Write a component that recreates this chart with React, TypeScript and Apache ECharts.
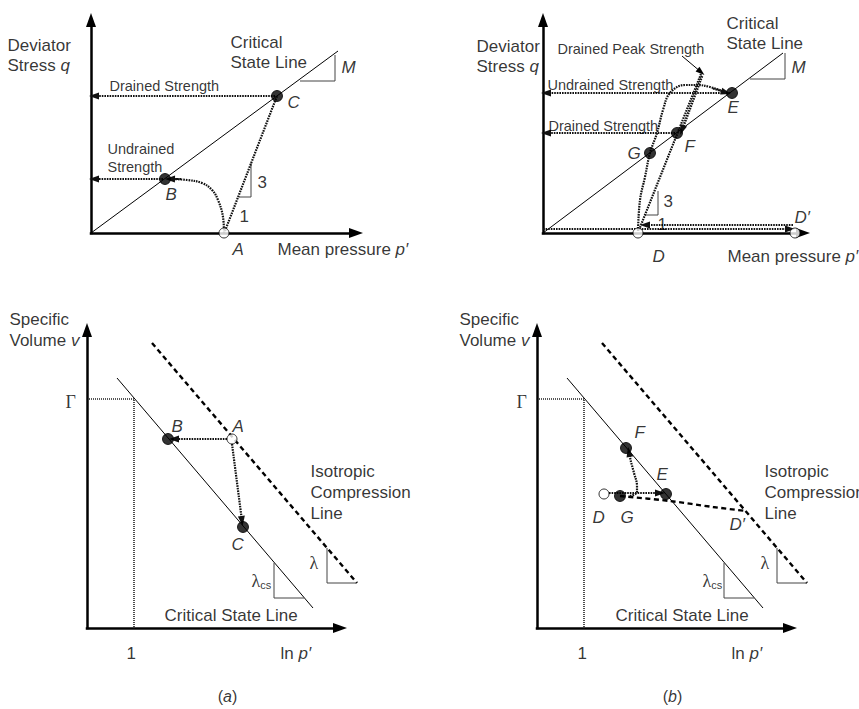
import React, { useEffect, useRef } from "react";
import * as echarts from "echarts";

const SANS = "'Liberation Sans', Arial, sans-serif";
const SERIF = "'Liberation Serif', 'Times New Roman', serif";
const BIG = 17;
const SMALL = 14.5;

// ---------- Panel (a), upper: q – p′ plane (local diagram units) ----------
const qpA_axes = [[[0, 0], [0, 213]], [[0, 0], [265, 0]]];
const qpA_csl = [[0, 0], [247, 182]];
const qpA_filled = [[74, 54], [186, 137]]; // B, C
const qpA_open = [[133, 0]]; // A
const qpA_undrainedPath = [[133, 0], [132, 16], [127, 33], [121, 43], [111, 50], [96, 53], [80, 54]];
const qpA_pathHeads = [[[90, 53.8], [79, 54]]];
const qpA_drainedPath = [[134, 2], [186, 137]];
const qpA_strengthArrows = [[[184, 137], [3, 137]], [[72, 54], [3, 54]]];
const qpA_slope3 = [[148, 36], [160, 36], [160, 70]];
const qpA_slopeM = [[209, 152], [244, 152], [244, 178]];

// ---------- Panel (b), upper ----------
const qpB_axes = [[[0, 0], [0, 213]], [[0, 0], [260, 0]]];
const qpB_csl = [[0, 0], [240, 180]];
const qpB_filled = [[189, 140], [134, 100], [107, 80]]; // E, F, G
const qpB_open = [[95, 0], [252, 0]]; // D, D′
const qpB_undrainedPath = [[95, 2], [97, 33], [102, 56], [107, 80], [114, 100], [120, 123], [127, 140], [142, 148], [154, 148], [167, 146], [182, 141]];
const qpB_curveHead = [[[170, 144.5], [183, 140.5]]];
const qpB_drainedLine = [[96, 3], [158, 159]];
const qpB_loadArrows = [[[0, 4], [247, 4]], [[250, 8], [102, 8]]];
const qpB_strengthArrows = [[[187, 140], [3, 140]], [[132, 100], [3, 100]]];
const qpB_peakReturn = [[[159, 157], [139, 103]]];
const qpB_peakPointer = [[[139, 177], [158, 161]]];
const qpB_slope3 = [[102, 18], [115, 18], [115, 42]];
const qpB_slopeM = [[207, 154], [242, 154], [242, 180]];

// ---------- Panel (a), lower: v – ln p′ plane ----------
const vA_axes = [[[0, 0], [0, 298]], [[0, 0], [253, 0]]];
const vA_csl = [[30, 250], [226, 20]];
const vA_icl = [[65, 285], [270, 45]];
const vA_gamma = [[0, 229], [47, 229], [47, 0]];
const vA_filled = [[81, 189], [156, 101]]; // B, C
const vA_open = [[145, 189]]; // A
const vA_arrows = [[[140, 189], [87, 189]], [[145, 184], [155, 107]]];
const vA_lambda = [[240, 80], [240, 45], [269, 45]];
const vA_lambdaCs = [[187, 65], [187, 30], [217, 30]];

// ---------- Panel (b), lower ----------
const vB_axes = [[[0, 0], [0, 298]], [[0, 0], [253, 0]]];
const vB_csl = [[30, 250], [226, 20]];
const vB_icl = [[65, 285], [270, 45]];
const vB_gamma = [[0, 229], [47, 229], [47, 0]];
const vB_filled = [[89, 180], [129, 134], [83, 132]]; // F, E, G
const vB_open = [[67, 134]]; // D
const vB_unloadDashed = [[83, 132], [133, 127], [176, 121], [209, 117]];
const vB_arrowDE = [[[72, 135], [123, 135]]];
const vB_curveToF = [[93, 132], [100, 136], [100, 142], [97, 155], [94, 166]];
const vB_curveHead = [[[94, 166], [92, 176]]];
const vB_lambda = [[240, 80], [240, 45], [270, 45]];
const vB_lambdaCs = [[187, 65], [187, 30], [217, 30]];

// ---------- Text labels (anchor = left-middle, local units) ----------
type Txt = { at: number[]; text: string; size?: number; lh?: number; align?: string };
const qpA_text: Txt[] = [
  { at: [-83, 177], text: "Deviator\nStress {i|q}" },
  { at: [140, 180], text: "Critical\nState Line" },
  { at: [251, 165], text: "{i|M}" },
  { at: [19, 147], text: "Drained Strength", size: SMALL },
  { at: [17, 75], text: "Undrained\nStrength", size: SMALL, lh: 18 },
  { at: [75, 38], text: "{i|B}" },
  { at: [197, 130], text: "{i|C}" },
  { at: [142, -17], text: "{i|A}" },
  { at: [187, -17], text: "Mean pressure {i|p′}" },
  { at: [167, 50], text: "3" },
  { at: [149, 16], text: "1" },
];
const qpB_text: Txt[] = [
  { at: [-66, 176], text: "Deviator\nStress {i|q}" },
  { at: [184, 199], text: "Critical\nState Line" },
  { at: [249, 165], text: "{i|M}" },
  { at: [15, 184], text: "Drained Peak Strength", size: SMALL },
  { at: [5, 148], text: "Undrained Strength", size: SMALL },
  { at: [6, 107], text: "Drained Strength", size: SMALL },
  { at: [185, 125], text: "{i|E}" },
  { at: [142, 86], text: "{i|F}" },
  { at: [85, 79], text: "{i|G}" },
  { at: [110, -24], text: "{i|D}" },
  { at: [252, 15], text: "{i|D′}" },
  { at: [185, -24], text: "Mean pressure {i|p′}" },
  { at: [121, 31], text: "3" },
  { at: [115, 8], text: "1" },
];
const vA_text: Txt[] = [
  { at: [-77, 298], text: "Specific\nVolume {i|v}", lh: 21 },
  { at: [-21, 226], text: "{g|Γ}" },
  { at: [40, -26], text: "1" },
  { at: [194, -26], text: "ln {i|p′}" },
  { at: [85, 201], text: "{i|B}" },
  { at: [146, 201], text: "{i|A}" },
  { at: [145, 83], text: "{i|C}" },
  { at: [224, 135], text: "Isotropic\nCompression\nLine", lh: 21 },
  { at: [78, 12], text: "Critical State Line" },
  { at: [223, 65], text: "{g|λ}" },
  { at: [165, 47], text: "{g|λ}{sub|cs}" },
  { at: [141, -69], text: "({i|a})", size: 16, align: "center" },
];
const vB_text: Txt[] = [
  { at: [-77, 298], text: "Specific\nVolume {i|v}", lh: 21 },
  { at: [-20, 226], text: "{g|Γ}" },
  { at: [41, -26], text: "1" },
  { at: [195, -26], text: "ln {i|p′}" },
  { at: [98, 195], text: "{i|F}" },
  { at: [120, 153], text: "{i|E}" },
  { at: [56, 110], text: "{i|D}" },
  { at: [84, 110], text: "{i|G}" },
  { at: [193, 103], text: "{i|D′}" },
  { at: [228, 135], text: "Isotropic\nCompression\nLine", lh: 21 },
  { at: [79, 12], text: "Critical State Line" },
  { at: [224, 65], text: "{g|λ}" },
  { at: [166, 47], text: "{g|λ}{sub|cs}" },
  { at: [136, -69], text: "({i|b})", size: 16, align: "center" },
];

// ---------- styles ----------
const AXIS = { color: "#000", width: 2.5, type: "solid", cap: "square" };
const THIN = { color: "#000", width: 1, type: "solid" };
const TRI = { color: "#444", width: 1, type: "solid" };
const DOTTED = { color: "#111", width: 2.2, type: [1.6, 1] };
const GAMMA = { color: "#222", width: 1.6, type: [1, 1] };
const DASHED = { color: "#000", width: 2.4, type: [5, 3.5] };

function lineS(gi: number, data: number[][], style: any, smooth: any = false) {
  return {
    type: "line", xAxisIndex: gi, yAxisIndex: gi, data, smooth, clip: false, silent: true,
    showSymbol: false, symbol: "none", lineStyle: style, z: 3,
  };
}
function arrowS(gi: number, segs: number[][][], style: any, size: number[] = [7, 10]) {
  return {
    type: "line", xAxisIndex: gi, yAxisIndex: gi, data: [segs[0][0]], clip: false, silent: true,
    showSymbol: false, symbol: "none", lineStyle: { width: 0 }, z: 4,
    markLine: {
      silent: true, animation: false, symbol: ["none", "triangle"], symbolSize: size,
      label: { show: false }, lineStyle: style, emphasis: { disabled: true },
      data: segs.map(([a, b]) => [{ coord: a }, { coord: b }]),
    },
  };
}
function dotS(gi: number, data: number[][], filled: boolean) {
  return {
    type: "scatter", xAxisIndex: gi, yAxisIndex: gi, data, clip: false, silent: true, z: 6,
    symbol: "circle", symbolSize: filled ? 11 : 10,
    itemStyle: { color: filled ? "#000" : "#fff", borderColor: "#000", borderWidth: 1 },
  };
}
function textS(gi: number, items: Txt[]) {
  return {
    type: "scatter", xAxisIndex: gi, yAxisIndex: gi, clip: false, silent: true, z: 10,
    symbol: "circle", symbolSize: 1, itemStyle: { color: "rgba(0,0,0,0)" },
    data: items.map((t) => {
      const s = t.size ?? BIG;
      const lh = t.lh ?? 20;
      return {
        value: t.at,
        label: {
          show: true, position: [0, 0], align: t.align ?? "left", verticalAlign: "middle",
          formatter: t.text, fontSize: s, lineHeight: lh, fontFamily: SANS, color: "#000",
          textBorderWidth: 0,
          rich: {
            i: { fontStyle: "italic", fontSize: s, lineHeight: lh, fontFamily: SANS, color: "#000" },
            g: { fontSize: s + 1, lineHeight: lh, fontFamily: SERIF, color: "#000" },
            sub: { fontSize: 11, lineHeight: lh, fontFamily: SANS, color: "#000", verticalAlign: "bottom" },
          },
        },
      };
    }),
  };
}

// Each grid: origin at its bottom-left corner, 1 data unit = 1 pixel.
const GRIDS = [
  { left: 91, top: 13, width: 272, height: 220 },
  { left: 543, top: 13, width: 267, height: 220 },
  { left: 87, top: 323, width: 290, height: 305 },
  { left: 537, top: 323, width: 290, height: 305 },
];

function axisHidden(i: number, max: number) {
  return {
    gridIndex: i, type: "value", min: 0, max, show: false,
    axisLine: { show: false }, axisTick: { show: false }, axisLabel: { show: false }, splitLine: { show: false },
  };
}

export default function App() {
  const ref = useRef<HTMLDivElement>(null);
  useEffect(() => {
    document.body.style.margin = "0";
    const chart = echarts.init(ref.current!, null, { renderer: "svg" });
    const series: any[] = [
      // (a) upper
      arrowS(0, qpA_axes, AXIS, [10, 14]),
      lineS(0, qpA_csl, THIN),
      lineS(0, qpA_slope3, TRI),
      lineS(0, qpA_slopeM, TRI),
      lineS(0, qpA_undrainedPath, DOTTED, 0.4),
      arrowS(0, qpA_pathHeads, DOTTED),
      lineS(0, qpA_drainedPath, DOTTED),
      arrowS(0, qpA_strengthArrows, DOTTED),
      dotS(0, qpA_filled, true),
      dotS(0, qpA_open, false),
      textS(0, qpA_text),
      // (b) upper
      arrowS(1, qpB_axes, AXIS, [10, 14]),
      lineS(1, qpB_csl, THIN),
      lineS(1, qpB_slope3, TRI),
      lineS(1, qpB_slopeM, TRI),
      lineS(1, qpB_undrainedPath, DOTTED, 0.4),
      arrowS(1, qpB_curveHead, DOTTED),
      lineS(1, qpB_drainedLine, DOTTED),
      arrowS(1, qpB_peakReturn, { ...DOTTED, width: 2.6 }),
      arrowS(1, qpB_peakPointer, THIN, [6, 9]),
      arrowS(1, qpB_loadArrows, DOTTED),
      arrowS(1, qpB_strengthArrows, DOTTED),
      dotS(1, qpB_filled, true),
      dotS(1, qpB_open, false),
      textS(1, qpB_text),
      // (a) lower
      arrowS(2, vA_axes, AXIS, [10, 14]),
      lineS(2, vA_csl, THIN),
      lineS(2, vA_icl, DASHED),
      lineS(2, vA_gamma, GAMMA),
      lineS(2, vA_lambda, TRI),
      lineS(2, vA_lambdaCs, TRI),
      arrowS(2, vA_arrows, DOTTED),
      dotS(2, vA_filled, true),
      dotS(2, vA_open, false),
      textS(2, vA_text),
      // (b) lower
      arrowS(3, vB_axes, AXIS, [10, 14]),
      lineS(3, vB_csl, THIN),
      lineS(3, vB_icl, DASHED),
      lineS(3, vB_gamma, GAMMA),
      lineS(3, vB_lambda, TRI),
      lineS(3, vB_lambdaCs, TRI),
      lineS(3, vB_unloadDashed, DASHED, 0.3),
      arrowS(3, vB_arrowDE, DOTTED),
      lineS(3, vB_curveToF, DOTTED, 0.4),
      arrowS(3, vB_curveHead, DOTTED),
      dotS(3, vB_filled, true),
      dotS(3, vB_open, false),
      textS(3, vB_text),
    ];
    chart.setOption({
      animation: false,
      backgroundColor: "#fff",
      grid: GRIDS,
      xAxis: GRIDS.map((g, i) => axisHidden(i, g.width)),
      yAxis: GRIDS.map((g, i) => axisHidden(i, g.height)),
      series,
    });
    return () => chart.dispose();
  }, []);
  return <div ref={ref} style={{ position: "absolute", left: 0, top: 0, width: 859, height: 709 }} />;
}
